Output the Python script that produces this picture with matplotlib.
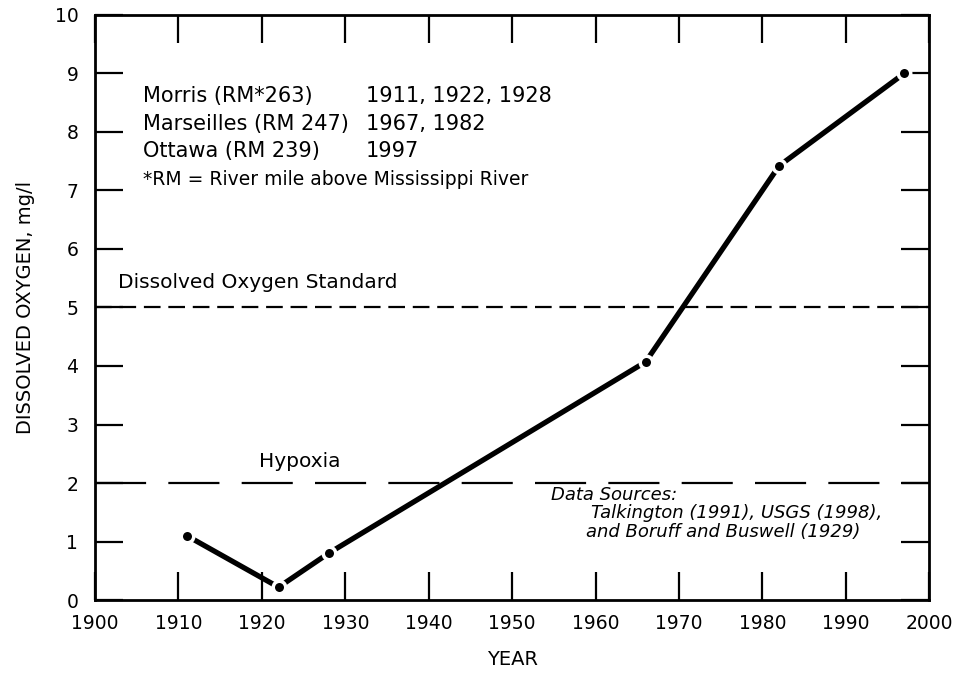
import numpy as np
import matplotlib
matplotlib.use("Agg")
import matplotlib.pyplot as plt

# dissolved oxygen readings, Illinois River
years = [1911, 1922, 1928, 1966, 1982, 1997]
oxygen = [1.1, 0.22, 0.8, 4.07, 7.42, 9.0]

do_standard = 5
hypoxia = 2

sites = ["Morris (RM*263)", "Marseilles (RM 247)", "Ottawa (RM 239)"]
site_years = ["1911, 1922, 1928", "1967, 1982", "1997"]
site_y = [8.62, 8.13, 7.68]

plt.rcParams['font.family'] = ['DejaVu Sans']

fig = plt.figure(figsize=(9.6, 6.75), dpi=100)
ax = fig.add_axes([0.099, 0.111, 0.869, 0.867])

# reference lines
ax.axhline(do_standard, color='black', lw=1.6, dashes=(7.5, 3.5))
ax.axhline(hypoxia, color='black', lw=1.6, dashes=(23, 10))

ax.plot(years, oxygen, color='black', lw=3.8, solid_capstyle='round',
        marker='o', markersize=9, markerfacecolor='black',
        markeredgecolor='white', markeredgewidth=2.5, zorder=3)

ax.set_xlim(1900, 2000)
ax.set_ylim(0, 10)
ax.set_xticks(range(1900, 2001, 10))
ax.set_yticks(range(0, 11))

ax.tick_params(direction='in', length=20, width=1.6, top=True, right=True,
               labelsize=13.5)
ax.tick_params(axis='y', pad=12)
ax.tick_params(axis='x', pad=10)
for s in ax.spines.values():
    s.set_linewidth(2)

ax.set_xlabel("YEAR", fontsize=14, labelpad=12)
ax.set_ylabel("DISSOLVED OXYGEN, mg/l", fontsize=14, labelpad=14)

# site table
for name, yrs, yy in zip(sites, site_years, site_y):
    ax.text(1905.8, yy, name, fontsize=15, va='center')
    ax.text(1932.5, yy, yrs, fontsize=15, va='center')
ax.text(1905.8, 7.19, "*RM = River mile above Mississippi River",
        fontsize=13.5, va='center')

ax.text(1902.7, 5.42, "Dissolved Oxygen Standard", fontsize=14.5, va='center')
ax.text(1919.6, 2.36, "Hypoxia", fontsize=14.5, va='center')

ax.text(1954.7, 1.79, "Data Sources:", fontsize=13, style='italic', va='center')
ax.text(1959.4, 1.49, "Talkington (1991), USGS (1998),", fontsize=13,
        style='italic', va='center')
ax.text(1958.8, 1.16, "and Boruff and Buswell (1929)", fontsize=13,
        style='italic', va='center')

fig.savefig("out.png", dpi=100)
